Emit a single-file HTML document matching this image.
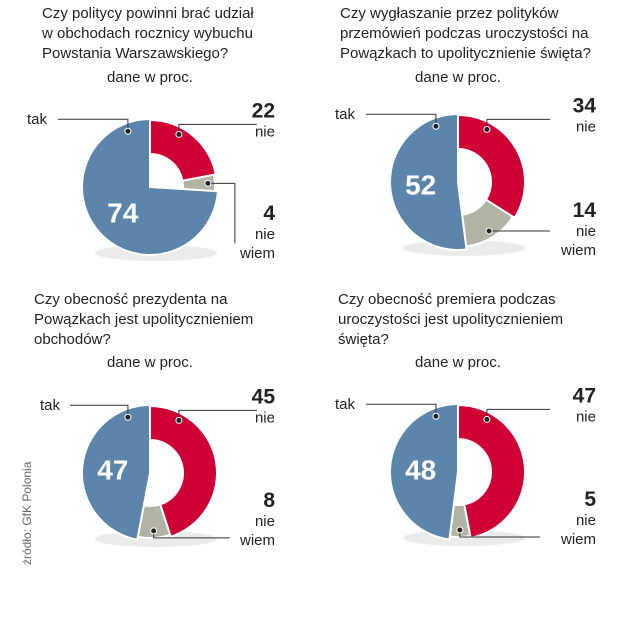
<!DOCTYPE html>
<html><head><meta charset="utf-8"><style>
body{margin:0;background:#fff;}
svg{display:block;font-family:"Liberation Sans",sans-serif;}
.t{font-size:15px;fill:#222;}
.v{font-size:21px;font-weight:bold;fill:#222;}
</style></head><body>
<svg id="chart" width="641" height="640" viewBox="0 0 641 640">
<text transform="translate(31,565) rotate(-90)" font-size="12" fill="#666">źródło: GfK Polonia</text>
</svg>
<script>
const questions = [
 ["Czy politycy powinni brać udział","w obchodach  rocznicy wybuchu","Powstania Warszawskiego?"],
 ["Czy wygłaszanie przez polityków","przemówień podczas uroczystości na","Powązkach to upolitycznienie święta?"],
 ["Czy obecność prezydenta na","Powązkach jest upolitycznieniem","obchodów?"],
 ["Czy obecność premiera podczas","uroczystości jest upolitycznieniem","święta?"]
];
const takValues = [74, 52, 47, 48];
const nieValues = [22, 34, 45, 47];
const nieWiemValues = [4, 14, 8, 5];

const NS="http://www.w3.org/2000/svg";
const svg=document.getElementById('chart');
function mk(tag,attrs,parent){const e=document.createElementNS(NS,tag);for(const k in attrs)e.setAttribute(k,attrs[k]);(parent||svg).appendChild(e);return e;}
function pt(cx,cy,r,frac){const a=frac*2*Math.PI;return [cx+r*Math.sin(a),cy-r*Math.cos(a)];}
function arcPath(cx,cy,r0,r1,f0,f1){
  const large=(f1-f0)>0.5?1:0;
  const [x1,y1]=pt(cx,cy,r1,f0),[x2,y2]=pt(cx,cy,r1,f1);
  if(r0<=0){return `M${cx},${cy}L${x1},${y1}A${r1},${r1} 0 ${large} 1 ${x2},${y2}Z`;}
  const [x3,y3]=pt(cx,cy,r0,f1),[x4,y4]=pt(cx,cy,r0,f0);
  return `M${x1},${y1}A${r1},${r1} 0 ${large} 1 ${x2},${y2}L${x3},${y3}A${r0},${r0} 0 ${large} 0 ${x4},${y4}Z`;
}
const layouts=[
 {tx:42,ty:18,cx:150,cy:187,sub:150,subY:82},
 {tx:340,ty:18,cx:458,cy:182,sub:458,subY:82},
 {tx:34,ty:304,cx:150,cy:473,sub:150,subY:367},
 {tx:338,ty:304,cx:458,cy:472,sub:458,subY:367}
];
const R=68, HOLE=33;
layouts.forEach((L,i)=>{
  const g=mk('g',{});
  
  
  questions[i].forEach((line,j)=>{
    const t=mk('text',{x:L.tx,y:L.ty+j*20,class:'t'},g);t.textContent=line;
    
    
  });
  const s=mk('text',{x:L.sub,y:L.subY,class:'t','text-anchor':'middle'},g);s.textContent='dane w proc.';
  
  
  const cx=L.cx,cy=L.cy;
  const tot=takValues[i]+nieValues[i]+nieWiemValues[i];
  const fn=nieValues[i]/tot, fw=nieWiemValues[i]/tot;
  mk('ellipse',{cx:cx+6,cy:cy+R-2,rx:R*0.9,ry:8,fill:'#ddd',opacity:0.6},g);
  const red=mk('path',{d:arcPath(cx,cy,HOLE,R-1,0,fn),fill:'#cf0033',stroke:'#fff','stroke-width':2},g);
  
  
  const gray=mk('path',{d:arcPath(cx,cy,HOLE,R-3,fn,fn+fw),fill:'#b2b3a5',stroke:'#fff','stroke-width':2},g);
  
  
  const blue=mk('path',{d:arcPath(cx,cy,0,R,fn+fw,1),fill:'#5b85aa',stroke:'#fff','stroke-width':2},g);
  
  
  const ftak=(fn+fw+1)/2;
  const [vx,vy]=pt(cx,cy,R*0.55,ftak);
  const tv=mk('text',{x:vx,y:vy+10,'text-anchor':'middle','font-size':28,'font-weight':'bold',fill:'#fff'},g);
  tv.textContent=takValues[i];
  
  
  const [tx,ty]=pt(cx,cy,R-8,1-0.06);
  const right=cx+(i%2?138:125);
  mk('polyline',{points:`${cx-(i===2?80:92)},${ty-12} ${tx},${ty-12} ${tx},${ty}`,fill:'none',stroke:'#333','stroke-width':1},g);
  mk('circle',{cx:tx,cy:ty,r:3,fill:'#222',stroke:'#fff','stroke-width':1},g);
  const tk=mk('text',{x:cx-123+(i===2?13:0),y:ty-7,class:'t'},g);tk.textContent='tak';
  
  
  const [nx,ny]=pt(cx,cy,R-8,0.08);
  mk('polyline',{points:`${right-(i%2?46:18)},${ny-10} ${nx},${ny-10} ${nx},${ny}`,fill:'none',stroke:'#333','stroke-width':1},g);
  mk('circle',{cx:nx,cy:ny,r:3,fill:'#222',stroke:'#fff','stroke-width':1},g);
  const nv=mk('text',{x:right,y:ny-17,class:'v','text-anchor':'end'},g);nv.textContent=nieValues[i];
  
  
  const nl=mk('text',{x:right,y:ny+2,class:'t','text-anchor':'end'},g);nl.textContent='nie';
  
  
  const [wx,wy]=pt(cx,cy,R-10,fn+fw/2);
  const wBase=cy+(i===0?33:i===1?35:34);
  if(i===0){
    mk('polyline',{points:`${wx},${wy} ${wx+27},${wy} ${wx+27},${wy+60}`,fill:'none',stroke:'#333','stroke-width':1},g);
  } else if(i===1){
    mk('polyline',{points:`${wx},${wy} ${right-46},${wy}`,fill:'none',stroke:'#333','stroke-width':1},g);
  } else {
    mk('polyline',{points:`${wx},${wy} ${wx},${wy+7} ${right-(i===2?45:56)},${wy+7}`,fill:'none',stroke:'#333','stroke-width':1},g);
  }
  mk('circle',{cx:wx,cy:wy,r:3,fill:'#222',stroke:'#fff','stroke-width':1},g);
  const wv=mk('text',{x:right,y:wBase,class:'v','text-anchor':'end'},g);wv.textContent=nieWiemValues[i];
  
  
  const w1=mk('text',{x:right,y:wBase+19,class:'t','text-anchor':'end'},g);w1.textContent='nie';
  
  
  const w2=mk('text',{x:right,y:wBase+38,class:'t','text-anchor':'end'},g);w2.textContent='wiem';
  
  
});
</script>
</body></html>
